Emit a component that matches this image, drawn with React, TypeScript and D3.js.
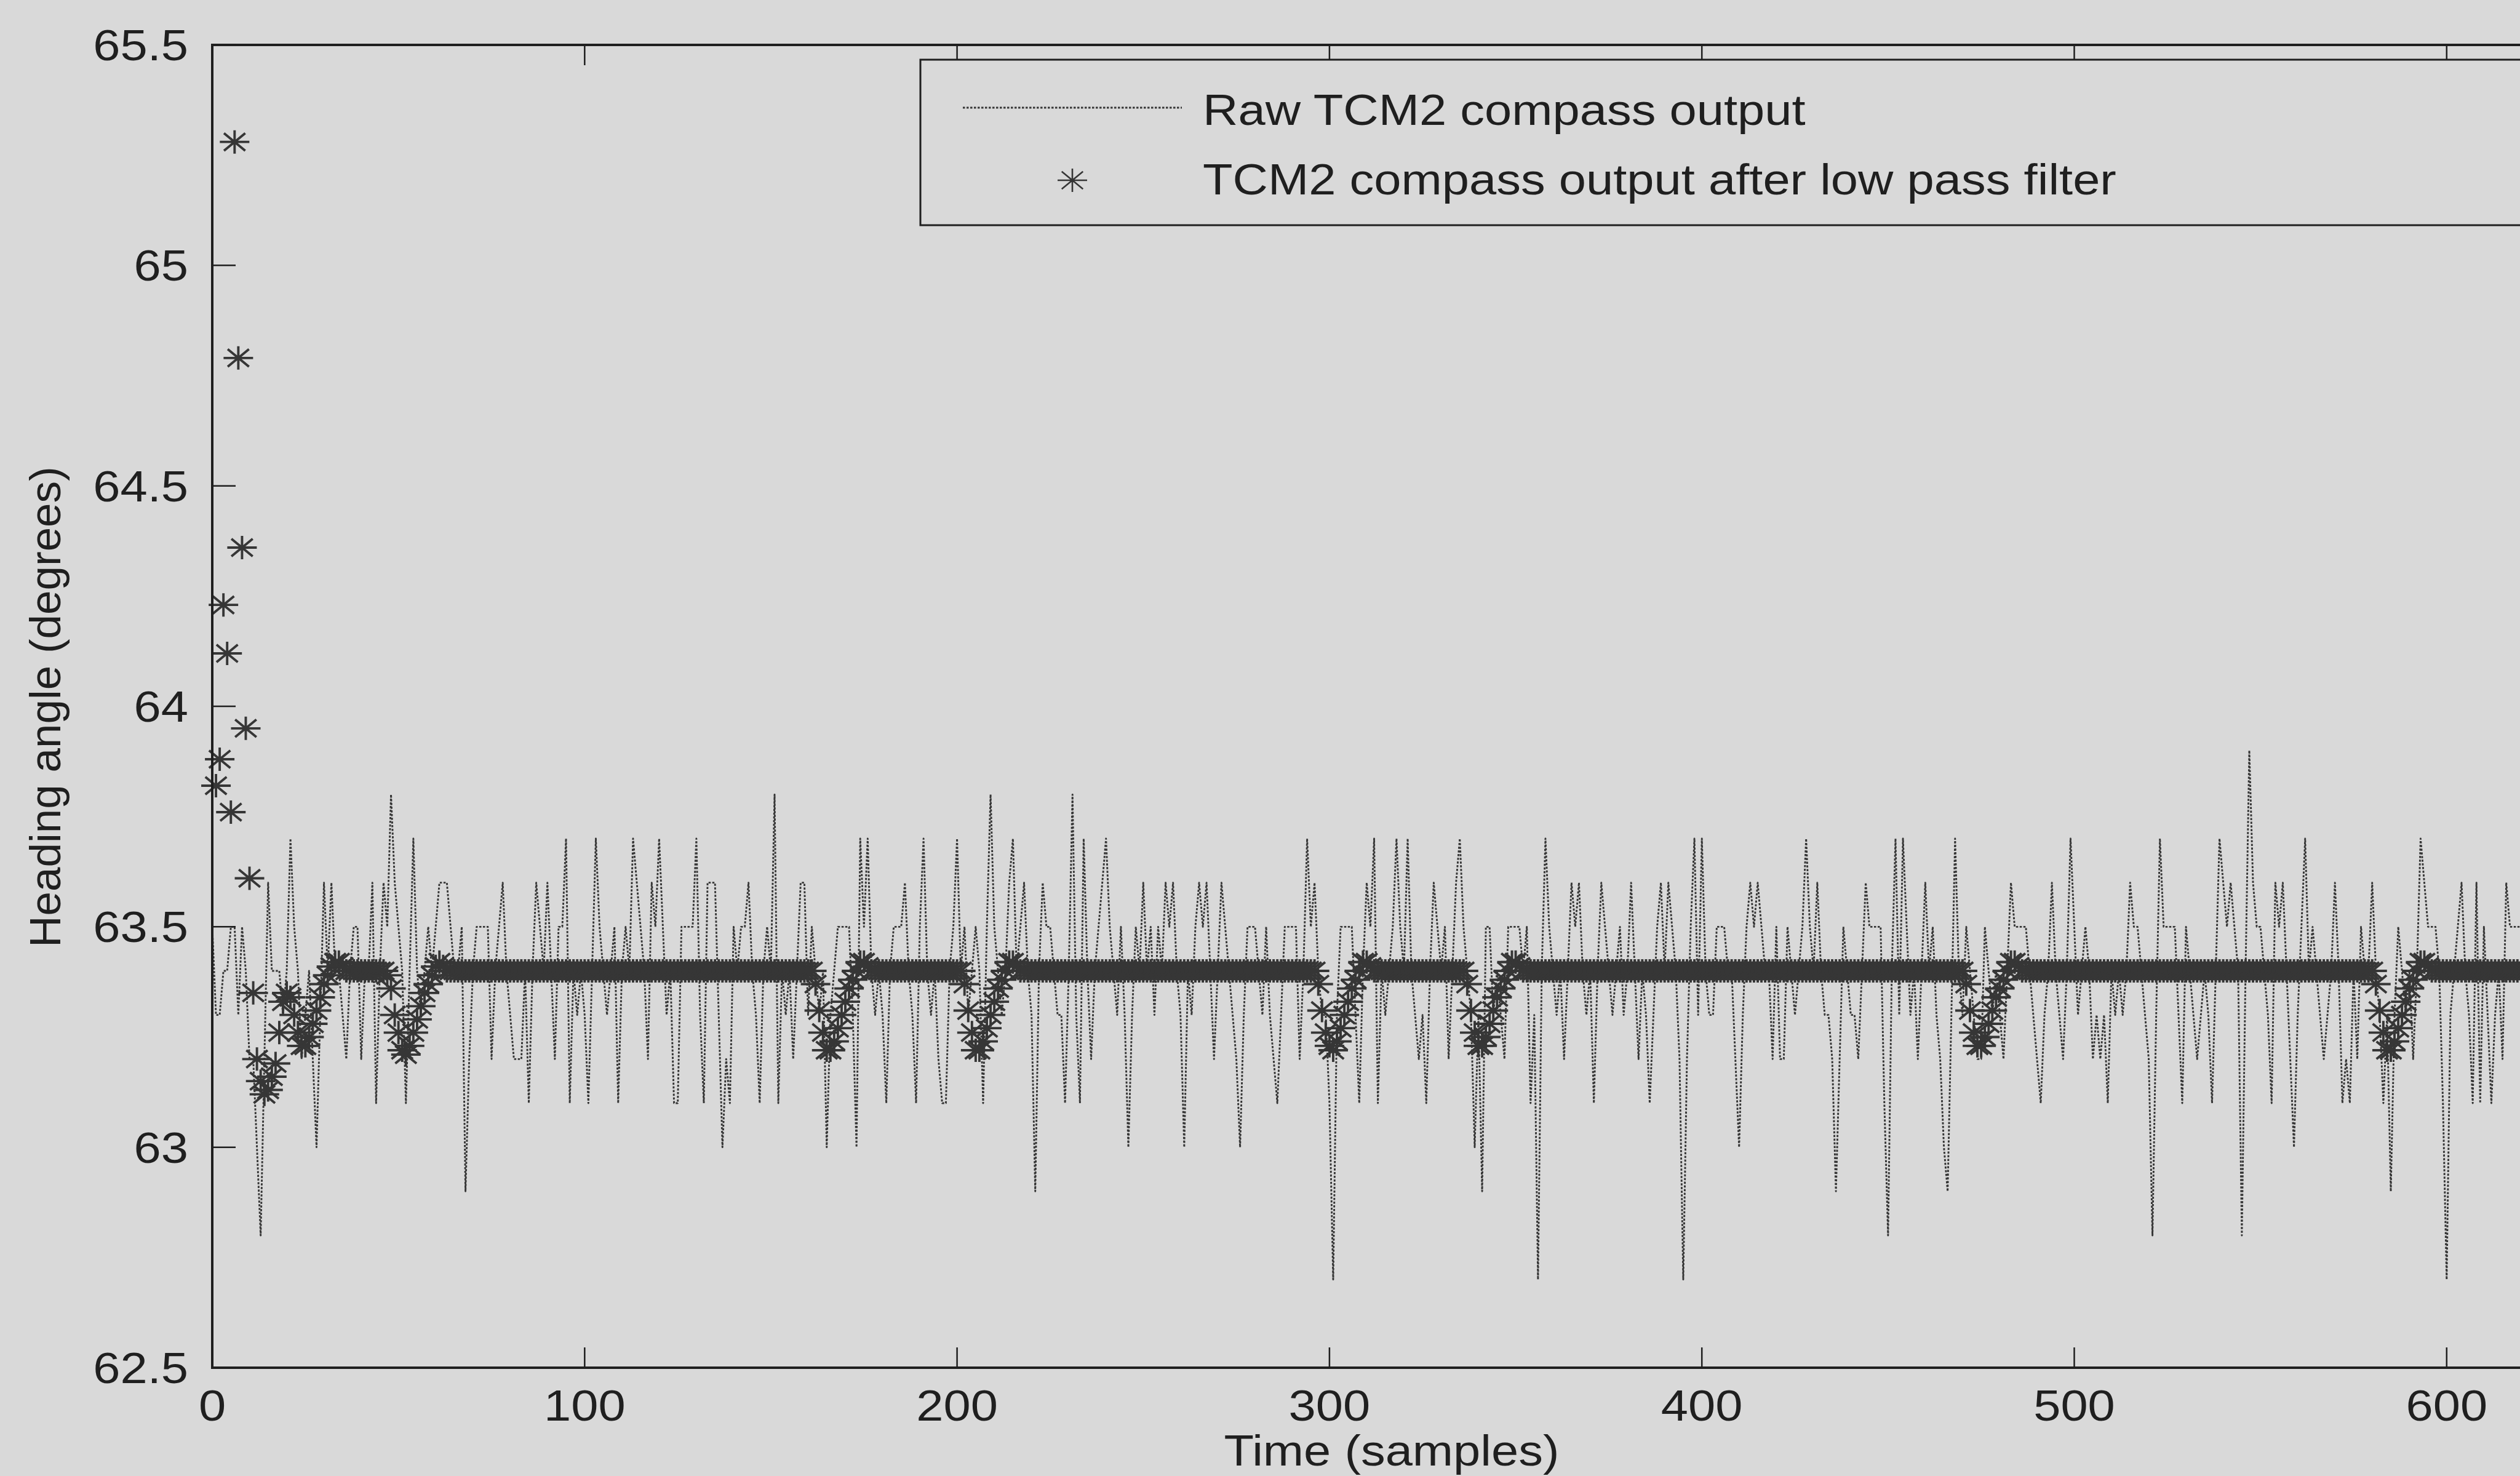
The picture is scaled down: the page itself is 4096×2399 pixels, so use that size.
import React from "react";
import * as d3 from "d3";

// ---------------- DATA ----------------
// Raw TCM2 compass output, samples 0..622 (degrees)
const RAW: number[] = [
  // 0-9
  63.5, 63.3, 63.3, 63.4, 63.4, 63.5, 63.5, 63.3, 63.5, 63.4,
  // 10-19
  63.2, 63.2, 63.0, 62.8, 63.2, 63.6, 63.4, 63.4, 63.4, 63.3,
  // 20-29
  63.4, 63.7, 63.5, 63.4, 63.2, 63.3, 63.4, 63.2, 63.0, 63.3,
  // 30-39
  63.6, 63.4, 63.6, 63.4, 63.4, 63.3, 63.2, 63.4, 63.5, 63.5,
  // 40-49
  63.2, 63.4, 63.4, 63.6, 63.1, 63.4, 63.6, 63.5, 63.8, 63.6,
  // 50-59
  63.5, 63.4, 63.1, 63.4, 63.7, 63.4, 63.3, 63.4, 63.5, 63.4,
  // 60-69
  63.5, 63.6, 63.6, 63.6, 63.5, 63.4, 63.4, 63.5, 62.9, 63.2,
  // 70-79
  63.4, 63.5, 63.5, 63.5, 63.5, 63.2, 63.4, 63.5, 63.6, 63.4,
  // 80-89
  63.3, 63.2, 63.2, 63.2, 63.4, 63.1, 63.4, 63.6, 63.5, 63.4,
  // 90-99
  63.6, 63.4, 63.2, 63.5, 63.5, 63.7, 63.1, 63.4, 63.3, 63.4,
  // 100-109
  63.3, 63.1, 63.4, 63.7, 63.5, 63.4, 63.3, 63.4, 63.5, 63.1,
  // 110-119
  63.4, 63.5, 63.4, 63.7, 63.6, 63.5, 63.4, 63.2, 63.6, 63.5,
  // 120-129
  63.7, 63.5, 63.3, 63.4, 63.1, 63.1, 63.5, 63.5, 63.5, 63.5,
  // 130-139
  63.7, 63.3, 63.1, 63.6, 63.6, 63.6, 63.3, 63.0, 63.2, 63.1,
  // 140-149
  63.5, 63.4, 63.5, 63.5, 63.6, 63.4, 63.3, 63.1, 63.4, 63.5,
  // 150-159
  63.4, 63.8, 63.1, 63.4, 63.3, 63.4, 63.2, 63.4, 63.6, 63.6,
  // 160-169
  63.3, 63.5, 63.4, 63.3, 63.4, 63.0, 63.3, 63.4, 63.5, 63.5,
  // 170-179
  63.5, 63.5, 63.3, 63.0, 63.7, 63.5, 63.7, 63.4, 63.3, 63.4,
  // 180-189
  63.3, 63.1, 63.4, 63.5, 63.5, 63.5, 63.6, 63.4, 63.3, 63.1,
  // 190-199
  63.5, 63.7, 63.4, 63.3, 63.4, 63.2, 63.1, 63.1, 63.4, 63.5,
  // 200-209
  63.7, 63.4, 63.5, 63.3, 63.4, 63.5, 63.4, 63.1, 63.5, 63.8,
  // 210-219
  63.5, 63.4, 63.3, 63.4, 63.6, 63.7, 63.4, 63.5, 63.6, 63.4,
  // 220-229
  63.3, 62.9, 63.4, 63.6, 63.5, 63.5, 63.4, 63.3, 63.3, 63.1,
  // 230-239
  63.4, 63.8, 63.3, 63.1, 63.7, 63.4, 63.2, 63.4, 63.5, 63.6,
  // 240-249
  63.7, 63.5, 63.4, 63.3, 63.5, 63.3, 63.0, 63.3, 63.5, 63.4,
  // 250-259
  63.6, 63.4, 63.5, 63.3, 63.5, 63.4, 63.6, 63.5, 63.6, 63.4,
  // 260-269
  63.3, 63.0, 63.4, 63.3, 63.5, 63.6, 63.5, 63.6, 63.4, 63.2,
  // 270-279
  63.4, 63.6, 63.5, 63.4, 63.3, 63.2, 63.0, 63.3, 63.5, 63.5,
  // 280-289
  63.5, 63.4, 63.3, 63.5, 63.3, 63.2, 63.1, 63.3, 63.5, 63.5,
  // 290-299
  63.5, 63.5, 63.2, 63.4, 63.7, 63.5, 63.6, 63.4, 63.3, 63.3,
  // 300-309
  63.1, 62.7, 63.3, 63.5, 63.5, 63.5, 63.5, 63.3, 63.1, 63.4,
  // 310-319
  63.6, 63.5, 63.7, 63.1, 63.4, 63.3, 63.4, 63.5, 63.7, 63.5,
  // 320-329
  63.4, 63.7, 63.4, 63.3, 63.2, 63.3, 63.1, 63.4, 63.6, 63.5,
  // 330-339
  63.4, 63.5, 63.2, 63.4, 63.6, 63.7, 63.5, 63.4, 63.3, 63.0,
  // 340-349
  63.3, 62.9, 63.5, 63.5, 63.3, 63.4, 63.3, 63.2, 63.5, 63.5,
  // 350-359
  63.5, 63.5, 63.4, 63.5, 63.1, 63.3, 62.7, 63.4, 63.7, 63.5,
  // 360-369
  63.4, 63.3, 63.4, 63.2, 63.4, 63.6, 63.5, 63.6, 63.4, 63.3,
  // 370-379
  63.4, 63.1, 63.4, 63.6, 63.5, 63.4, 63.3, 63.4, 63.5, 63.3,
  // 380-389
  63.4, 63.6, 63.4, 63.2, 63.4, 63.3, 63.1, 63.3, 63.5, 63.6,
  // 390-399
  63.4, 63.6, 63.5, 63.4, 63.2, 62.7, 63.2, 63.5, 63.7, 63.3,
  // 400-409
  63.7, 63.4, 63.3, 63.3, 63.5, 63.5, 63.5, 63.4, 63.4, 63.2,
  // 410-419
  63.0, 63.3, 63.5, 63.6, 63.5, 63.6, 63.5, 63.4, 63.4, 63.2,
  // 420-429
  63.5, 63.2, 63.2, 63.5, 63.4, 63.3, 63.4, 63.5, 63.7, 63.5,
  // 430-439
  63.4, 63.6, 63.4, 63.3, 63.3, 63.2, 62.9, 63.2, 63.5, 63.4,
  // 440-449
  63.3, 63.3, 63.2, 63.4, 63.6, 63.5, 63.5, 63.5, 63.5, 63.1,
  // 450-459
  62.8, 63.4, 63.7, 63.3, 63.7, 63.5, 63.3, 63.4, 63.2, 63.4,
  // 460-469
  63.6, 63.4, 63.5, 63.3, 63.2, 63.0, 62.9, 63.3, 63.7, 63.4,
  // 470-479
  63.3, 63.5, 63.4, 63.3, 63.2, 63.2, 63.5, 63.4, 63.3, 63.4,
  // 480-489
  63.3, 63.2, 63.4, 63.6, 63.5, 63.5, 63.5, 63.5, 63.4, 63.3,
  // 490-499
  63.2, 63.1, 63.3, 63.4, 63.6, 63.4, 63.3, 63.2, 63.4, 63.7,
  // 500-509
  63.5, 63.3, 63.4, 63.5, 63.4, 63.2, 63.3, 63.2, 63.3, 63.1,
  // 510-519
  63.4, 63.3, 63.4, 63.3, 63.4, 63.6, 63.5, 63.5, 63.4, 63.3,
  // 520-529
  63.2, 62.8, 63.3, 63.7, 63.5, 63.5, 63.5, 63.5, 63.3, 63.1,
  // 530-539
  63.5, 63.4, 63.3, 63.2, 63.3, 63.4, 63.3, 63.1, 63.4, 63.7,
  // 540-549
  63.6, 63.5, 63.6, 63.5, 63.4, 62.8, 63.4, 63.9, 63.6, 63.5,
  // 550-559
  63.5, 63.4, 63.3, 63.1, 63.6, 63.5, 63.6, 63.4, 63.2, 63.0,
  // 560-569
  63.3, 63.5, 63.7, 63.4, 63.5, 63.4, 63.3, 63.2, 63.3, 63.4,
  // 570-579
  63.6, 63.4, 63.1, 63.2, 63.1, 63.4, 63.2, 63.5, 63.4, 63.4,
  // 580-589
  63.6, 63.4, 63.3, 63.1, 63.3, 62.9, 63.3, 63.5, 63.4, 63.3,
  // 590-599
  63.4, 63.2, 63.4, 63.7, 63.6, 63.5, 63.5, 63.5, 63.4, 63.1,
  // 600-609
  62.7, 63.3, 63.4, 63.5, 63.6, 63.4, 63.3, 63.1, 63.6, 63.1,
  // 610-622
  63.5, 63.3, 63.1, 63.3, 63.4, 63.2, 63.6, 63.5, 63.5, 63.5, 63.5, 63.4, 63.5,
];

// Low-pass filtered output, samples 1..622 (degrees)
const FILTERED: number[] = [
  // 1-10
  63.82, 63.88, 64.23, 64.12, 63.76, 65.28, 64.79, 64.36, 63.95, 63.61,
  // 11-20
  63.35, 63.2, 63.15, 63.12, 63.13, 63.16, 63.19, 63.26, 63.33, 63.35,
  // 21-30
  63.34, 63.3, 63.26, 63.23, 63.23, 63.25, 63.28, 63.31, 63.34, 63.37,
  // 31-40
  63.39, 63.41, 63.42, 63.42, 63.41, 63.4, 63.4, 63.4, 63.4, 63.4,
  // 41-50
  63.4, 63.4, 63.4, 63.4, 63.4, 63.4, 63.39, 63.36, 63.3, 63.26,
  // 51-60
  63.22, 63.21, 63.23, 63.26, 63.29, 63.32, 63.35, 63.37, 63.39, 63.41,
  // 61-70
  63.42, 63.41, 63.4, 63.4, 63.4, 63.4, 63.4, 63.4, 63.4, 63.4,
  // 71-80
  63.4, 63.4, 63.4, 63.4, 63.4, 63.4, 63.4, 63.4, 63.4, 63.4,
  // 81-90
  63.4, 63.4, 63.4, 63.4, 63.4, 63.4, 63.4, 63.4, 63.4, 63.4,
  // 91-100
  63.4, 63.4, 63.4, 63.4, 63.4, 63.4, 63.4, 63.4, 63.4, 63.4,
  // 101-110
  63.4, 63.4, 63.4, 63.4, 63.4, 63.4, 63.4, 63.4, 63.4, 63.4,
  // 111-120
  63.4, 63.4, 63.4, 63.4, 63.4, 63.4, 63.4, 63.4, 63.4, 63.4,
  // 121-130
  63.4, 63.4, 63.4, 63.4, 63.4, 63.4, 63.4, 63.4, 63.4, 63.4,
  // 131-140
  63.4, 63.4, 63.4, 63.4, 63.4, 63.4, 63.4, 63.4, 63.4, 63.4,
  // 141-150
  63.4, 63.4, 63.4, 63.4, 63.4, 63.4, 63.4, 63.4, 63.4, 63.4,
  // 151-160
  63.4, 63.4, 63.4, 63.4, 63.4, 63.4, 63.4, 63.4, 63.4, 63.4,
  // 161-170
  63.4, 63.37, 63.31, 63.26, 63.22, 63.22, 63.24, 63.27, 63.3, 63.33,
  // 171-180
  63.36, 63.38, 63.4, 63.42, 63.42, 63.41, 63.4, 63.4, 63.4, 63.4,
  // 181-190
  63.4, 63.4, 63.4, 63.4, 63.4, 63.4, 63.4, 63.4, 63.4, 63.4,
  // 191-200
  63.4, 63.4, 63.4, 63.4, 63.4, 63.4, 63.4, 63.4, 63.4, 63.4,
  // 201-210
  63.4, 63.37, 63.31, 63.26, 63.22, 63.22, 63.24, 63.27, 63.3, 63.33,
  // 211-220
  63.36, 63.38, 63.4, 63.42, 63.42, 63.41, 63.4, 63.4, 63.4, 63.4,
  // 221-230
  63.4, 63.4, 63.4, 63.4, 63.4, 63.4, 63.4, 63.4, 63.4, 63.4,
  // 231-240
  63.4, 63.4, 63.4, 63.4, 63.4, 63.4, 63.4, 63.4, 63.4, 63.4,
  // 241-250
  63.4, 63.4, 63.4, 63.4, 63.4, 63.4, 63.4, 63.4, 63.4, 63.4,
  // 251-260
  63.4, 63.4, 63.4, 63.4, 63.4, 63.4, 63.4, 63.4, 63.4, 63.4,
  // 261-270
  63.4, 63.4, 63.4, 63.4, 63.4, 63.4, 63.4, 63.4, 63.4, 63.4,
  // 271-280
  63.4, 63.4, 63.4, 63.4, 63.4, 63.4, 63.4, 63.4, 63.4, 63.4,
  // 281-290
  63.4, 63.4, 63.4, 63.4, 63.4, 63.4, 63.4, 63.4, 63.4, 63.4,
  // 291-300
  63.4, 63.4, 63.4, 63.4, 63.4, 63.4, 63.37, 63.31, 63.26, 63.23,
  // 301-310
  63.22, 63.24, 63.27, 63.3, 63.33, 63.36, 63.38, 63.4, 63.42, 63.42,
  // 311-320
  63.41, 63.4, 63.4, 63.4, 63.4, 63.4, 63.4, 63.4, 63.4, 63.4,
  // 321-330
  63.4, 63.4, 63.4, 63.4, 63.4, 63.4, 63.4, 63.4, 63.4, 63.4,
  // 331-340
  63.4, 63.4, 63.4, 63.4, 63.4, 63.4, 63.37, 63.31, 63.26, 63.23,
  // 341-350
  63.23, 63.25, 63.28, 63.31, 63.34, 63.36, 63.38, 63.4, 63.42, 63.42,
  // 351-360
  63.41, 63.4, 63.4, 63.4, 63.4, 63.4, 63.4, 63.4, 63.4, 63.4,
  // 361-370
  63.4, 63.4, 63.4, 63.4, 63.4, 63.4, 63.4, 63.4, 63.4, 63.4,
  // 371-380
  63.4, 63.4, 63.4, 63.4, 63.4, 63.4, 63.4, 63.4, 63.4, 63.4,
  // 381-390
  63.4, 63.4, 63.4, 63.4, 63.4, 63.4, 63.4, 63.4, 63.4, 63.4,
  // 391-400
  63.4, 63.4, 63.4, 63.4, 63.4, 63.4, 63.4, 63.4, 63.4, 63.4,
  // 401-410
  63.4, 63.4, 63.4, 63.4, 63.4, 63.4, 63.4, 63.4, 63.4, 63.4,
  // 411-420
  63.4, 63.4, 63.4, 63.4, 63.4, 63.4, 63.4, 63.4, 63.4, 63.4,
  // 421-430
  63.4, 63.4, 63.4, 63.4, 63.4, 63.4, 63.4, 63.4, 63.4, 63.4,
  // 431-440
  63.4, 63.4, 63.4, 63.4, 63.4, 63.4, 63.4, 63.4, 63.4, 63.4,
  // 441-450
  63.4, 63.4, 63.4, 63.4, 63.4, 63.4, 63.4, 63.4, 63.4, 63.4,
  // 451-460
  63.4, 63.4, 63.4, 63.4, 63.4, 63.4, 63.4, 63.4, 63.4, 63.4,
  // 461-470
  63.4, 63.4, 63.4, 63.4, 63.4, 63.4, 63.4, 63.4, 63.4, 63.4,
  // 471-480
  63.37, 63.31, 63.26, 63.23, 63.23, 63.25, 63.28, 63.31, 63.34, 63.36,
  // 481-490
  63.38, 63.4, 63.42, 63.42, 63.41, 63.4, 63.4, 63.4, 63.4, 63.4,
  // 491-500
  63.4, 63.4, 63.4, 63.4, 63.4, 63.4, 63.4, 63.4, 63.4, 63.4,
  // 501-510
  63.4, 63.4, 63.4, 63.4, 63.4, 63.4, 63.4, 63.4, 63.4, 63.4,
  // 511-520
  63.4, 63.4, 63.4, 63.4, 63.4, 63.4, 63.4, 63.4, 63.4, 63.4,
  // 521-530
  63.4, 63.4, 63.4, 63.4, 63.4, 63.4, 63.4, 63.4, 63.4, 63.4,
  // 531-540
  63.4, 63.4, 63.4, 63.4, 63.4, 63.4, 63.4, 63.4, 63.4, 63.4,
  // 541-550
  63.4, 63.4, 63.4, 63.4, 63.4, 63.4, 63.4, 63.4, 63.4, 63.4,
  // 551-560
  63.4, 63.4, 63.4, 63.4, 63.4, 63.4, 63.4, 63.4, 63.4, 63.4,
  // 561-570
  63.4, 63.4, 63.4, 63.4, 63.4, 63.4, 63.4, 63.4, 63.4, 63.4,
  // 571-580
  63.4, 63.4, 63.4, 63.4, 63.4, 63.4, 63.4, 63.4, 63.4, 63.4,
  // 581-590
  63.37, 63.31, 63.26, 63.22, 63.22, 63.24, 63.27, 63.3, 63.33, 63.36,
  // 591-600
  63.38, 63.4, 63.42, 63.42, 63.41, 63.4, 63.4, 63.4, 63.4, 63.4,
  // 601-610
  63.4, 63.4, 63.4, 63.4, 63.4, 63.4, 63.4, 63.4, 63.4, 63.4,
  // 611-622
  63.4, 63.4, 63.4, 63.4, 63.4, 63.4, 63.4, 63.4, 63.4, 63.4, 63.4, 63.4,
];

const X_TICKS = [0, 100, 200, 300, 400, 500, 600];
const Y_TICKS = [62.5, 63, 63.5, 64, 64.5, 65, 65.5];
const X_LABEL = "Time (samples)";
const Y_LABEL = "Heading angle (degrees)";
const LEGEND_LABELS = ["Raw TCM2 compass output", "TCM2 compass output after low pass filter"];

// ---------------- LAYOUT ----------------
const W = 4096;
const H = 2399;
const LEFT = 345;
const TOP = 73;
const BOTTOM = 2223;
const PX_PER_SAMPLE = 6.053;
const X_MAX = 660;
const RIGHT = LEFT + X_MAX * PX_PER_SAMPLE;

const BG = "#d9d9d9";
const INK = "#1f1f1f";
const DATA_INK = "#363636";
const FONT = "'Liberation Sans', Arial, Helvetica, sans-serif";
const FS = 71;
const STRETCH = 1.12;

const STAR_RX = 24;
const STAR_RY = 19;
const starPath = (() => {
  const ax = STAR_RX * 0.72;
  const ay = STAR_RY * 0.75;
  return `M${-STAR_RX},0L${STAR_RX},0M0,${-STAR_RY}L0,${STAR_RY}M${-ax},${-ay}L${ax},${ay}M${-ax},${ay}L${ax},${-ay}`;
})();

export default function App() {
  const x = d3.scaleLinear().domain([0, X_MAX]).range([LEFT, RIGHT]);
  const y = d3.scaleLinear().domain([62.5, 65.5]).range([BOTTOM, TOP]);

  const rawLine = d3
    .line<number>()
    .x((_, i) => x(i))
    .y((d) => y(d))(RAW) as string;

  const stretchText = (
    tx: number,
    ty: number,
    label: string,
    anchor: "start" | "middle" | "end",
    key?: string | number
  ) => (
    <text
      key={key}
      transform={`translate(${tx},${ty}) scale(${STRETCH},1)`}
      textAnchor={anchor}
      fontFamily={FONT}
      fontSize={FS}
      fill={INK}
    >
      {label}
    </text>
  );

  const LEG_X = 1496;
  const LEG_Y = 97;
  const LEG_H = 269;

  return (
    <svg
      width={W}
      height={H}
      viewBox={`0 0 ${W} ${H}`}
      style={{ position: "absolute", left: 0, top: 0, display: "block" }}
    >
      <rect x={0} y={0} width={W} height={H} fill={BG} />

      {/* raw line */}
      <path
        d={rawLine}
        fill="none"
        stroke={DATA_INK}
        strokeWidth={2.9}
        strokeDasharray="3.5,2.5"
        strokeLinejoin="round"
      />

      {/* filtered stars */}
      <g stroke={DATA_INK} strokeWidth={3.9} fill="none">
        {FILTERED.map((v, i) => (
          <path key={i} d={starPath} transform={`translate(${x(i + 1)},${y(v)})`} />
        ))}
      </g>

      {/* axes frame */}
      <rect
        x={LEFT}
        y={TOP}
        width={RIGHT - LEFT}
        height={BOTTOM - TOP}
        fill="none"
        stroke={INK}
        strokeWidth={4}
      />

      {/* ticks */}
      <g stroke={INK} strokeWidth={2.5}>
        {X_TICKS.map((t) => (
          <g key={t}>
            <line x1={x(t)} x2={x(t)} y1={BOTTOM} y2={BOTTOM - 33} />
            <line x1={x(t)} x2={x(t)} y1={TOP} y2={TOP + 33} />
          </g>
        ))}
        {Y_TICKS.map((t) => (
          <line key={t} x1={LEFT} x2={LEFT + 38} y1={y(t)} y2={y(t)} />
        ))}
      </g>

      {/* tick labels */}
      {X_TICKS.map((t) => stretchText(x(t), 2309, String(t), "middle", "x" + t))}
      {Y_TICKS.map((t) => stretchText(306, y(t) + 25, String(t), "end", "y" + t))}

      {/* axis labels */}
      {stretchText(2262, 2382, X_LABEL, "middle", "xl")}
      <text
        transform={`translate(98,1149) rotate(-90)`}
        textAnchor="middle"
        fontFamily={FONT}
        fontSize={FS}
        fill={INK}
      >
        {Y_LABEL}
      </text>

      {/* legend */}
      <rect
        x={LEG_X}
        y={LEG_Y}
        width={3000}
        height={LEG_H}
        fill={BG}
        stroke={INK}
        strokeWidth={3}
      />
      <line
        x1={1565}
        x2={1921}
        y1={175}
        y2={175}
        stroke={DATA_INK}
        strokeWidth={2.9}
        strokeDasharray="3.5,2.5"
      />
      {stretchText(1955, 203, LEGEND_LABELS[0], "start", "l0")}
      <path
        d={starPath}
        transform={`translate(1743,293)`}
        stroke={DATA_INK}
        strokeWidth={2.6}
        fill="none"
      />
      {stretchText(1955, 316, LEGEND_LABELS[1], "start", "l1")}
    </svg>
  );
}
